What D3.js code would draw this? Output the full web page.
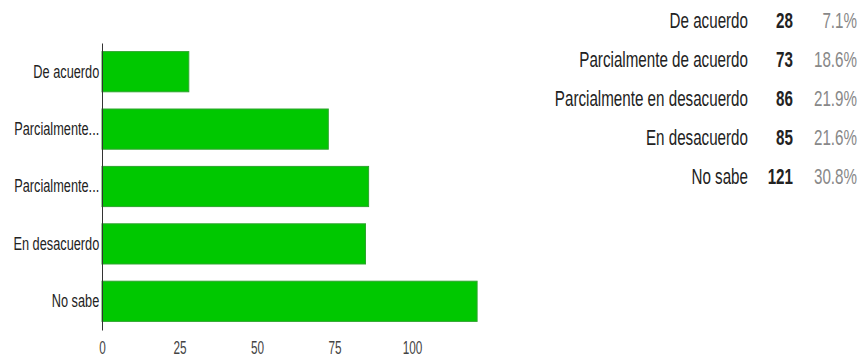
<!DOCTYPE html>
<html>
<head>
<meta charset="utf-8">
<script src="https://cdn.jsdelivr.net/npm/d3@7"></script>
<style>
  html, body { margin: 0; padding: 0; background: #fff; }
  svg { display: block; }
  text { font-family: "Liberation Sans", Arial, sans-serif; }
</style>
</head>
<body>
<svg id="chart" width="864" height="359"></svg>
<script>
// Survey answers
const categories = ["De acuerdo", "Parcialmente de acuerdo", "Parcialmente en desacuerdo", "En desacuerdo", "No sabe"];
const axisLabels = ["De acuerdo", "Parcialmente...", "Parcialmente...", "En desacuerdo", "No sabe"];
const counts = [28, 73, 86, 85, 121];
const percents = ["7.1%", "18.6%", "21.9%", "21.6%", "30.8%"];
const xTicks = [0, 25, 50, 75, 100];

const svg = d3.select("#chart");

const x = d3.scaleLinear().domain([0, 100]).range([102, 412]);
const y = d3.scaleBand().domain(categories).range([43, 330]).paddingInner(0.3).paddingOuter(0.15);

// bars
svg.append("g").selectAll("rect")
  .data(categories)
  .join("rect")
  .attr("x", x(0))
  .attr("y", d => y(d))
  .attr("width", (d, i) => x(counts[i]) - x(0))
  .attr("height", y.bandwidth())
  .attr("fill", "#00c800")
  .attr("stroke", "#2ea52e")
  .attr("stroke-width", 1);

// category axis
const yAxis = svg.append("g")
  .attr("transform", `translate(${x(0)},0)`)
  .call(d3.axisLeft(y).tickSize(0).tickSizeOuter(0).tickPadding(4)
    .tickFormat((d, i) => axisLabels[i]));
yAxis.select(".domain").attr("stroke", "#333").attr("stroke-width", 1);
yAxis.selectAll("text")
  .attr("fill", "#222")
  .style("font-size", "18.5px")
  .attr("transform", "scale(0.69,1)");

// value axis (labels only)
const xAxis = svg.append("g")
  .attr("transform", "translate(0,335)")
  .call(d3.axisBottom(x).tickValues(xTicks).tickSize(0).tickPadding(6));
xAxis.select(".domain").remove();
xAxis.selectAll("text")
  .attr("fill", "#444")
  .style("font-size", "19px")
  .attr("transform", "scale(0.62,1)");

// summary table
const rowY = d3.scalePoint().domain(categories).range([20, 176]);
const tableSqueeze = "scale(0.69,1)";
const rows = svg.append("g").selectAll("g")
  .data(categories)
  .join("g")
  .attr("transform", d => `translate(0,${rowY(d)})`);

rows.append("text")
  .attr("transform", "translate(748,0) " + tableSqueeze)
  .attr("text-anchor", "end")
  .attr("dy", "0.36em")
  .attr("fill", "#222")
  .style("font-size", "22px")
  .text(d => d);

rows.append("text")
  .attr("transform", "translate(793,0) " + tableSqueeze)
  .attr("text-anchor", "end")
  .attr("dy", "0.36em")
  .attr("fill", "#222")
  .style("font-size", "22px")
  .style("font-weight", "bold")
  .text((d, i) => counts[i]);

rows.append("text")
  .attr("transform", "translate(857,0) " + tableSqueeze)
  .attr("text-anchor", "end")
  .attr("dy", "0.36em")
  .attr("fill", "#888")
  .style("font-size", "22px")
  .text((d, i) => percents[i]);
</script>
</body>
</html>
